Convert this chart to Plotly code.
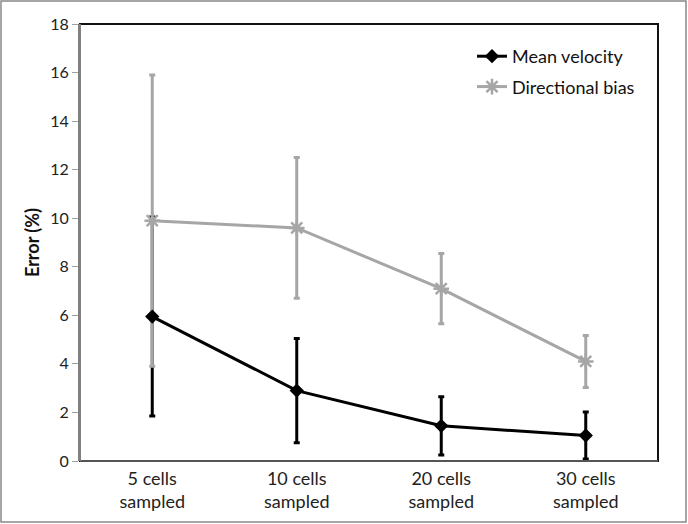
import plotly.graph_objects as go

categories = ["5 cells<br>sampled", "10 cells<br>sampled", "20 cells<br>sampled", "30 cells<br>sampled"]
mean_velocity = [5.95, 2.9, 1.45, 1.05]
mean_velocity_err = [4.1, 2.15, 1.2, 0.97]
directional_bias = [9.9, 9.6, 7.1, 4.1]
directional_bias_err = [6.0, 2.9, 1.45, 1.07]
y_ticks = [0, 2, 4, 6, 8, 10, 12, 14, 16, 18]

BLACK = "#000000"
GREY = "#a6a6a6"
FONT = "Lato"

fig = go.Figure()

# black error bars underneath grey series
fig.add_trace(go.Scatter(
    x=categories, y=mean_velocity, mode="lines",
    line=dict(color="rgba(0,0,0,0)", width=0),
    error_y=dict(type="data", array=mean_velocity_err, visible=True,
                 color=BLACK, thickness=3, width=3),
    showlegend=False, hoverinfo="skip",
))
fig.add_trace(go.Scatter(
    x=categories, y=directional_bias, mode="lines+markers",
    name="Directional bias", legendgroup="b",
    line=dict(color=GREY, width=3),
    marker=dict(symbol="asterisk-open", size=13, color=GREY, line=dict(color=GREY, width=2.5)),
    error_y=dict(type="data", array=directional_bias_err, visible=True,
                 color=GREY, thickness=3, width=3),
    legendrank=2,
))
fig.add_trace(go.Scatter(
    x=categories, y=mean_velocity, mode="lines+markers",
    name="Mean velocity", legendgroup="a",
    line=dict(color=BLACK, width=3),
    marker=dict(symbol="diamond", size=11, color=BLACK),
    legendrank=1,
))

fig.update_layout(
    width=688, height=524,
    margin=dict(l=80, r=30, t=24, b=63),
    paper_bgcolor="white", plot_bgcolor="white",
    font=dict(family=FONT, size=16, color="#222222"),
    showlegend=True,
    legend=dict(x=(472 - 80) / 578, y=1 - (38 - 24) / 437, xanchor="left", yanchor="top",
                bgcolor="rgba(0,0,0,0)", font=dict(size=18, color="#111111"),
                itemwidth=30, traceorder="grouped", tracegroupgap=4),
    xaxis=dict(type="category", range=[-0.5, 3.5], showgrid=False,
               showline=False, ticks="", zeroline=False, ticklabelstandoff=5,
               tickfont=dict(size=18, color="#222222")),
    yaxis=dict(range=[0, 18], tickvals=y_ticks, showgrid=False, zeroline=False,
               showline=True, linecolor="#808080", linewidth=2,
               ticks="outside", ticklen=6, tickcolor="#a0a0a0", tickwidth=1,
               tickfont=dict(size=16, color="#222222"),
               title=dict(text="<b>Error (%)</b>", font=dict(size=18, color="#111111"), standoff=6)),
    shapes=[
        dict(type="rect", xref="paper", yref="paper", x0=0, x1=1, y0=0, y1=1,
             line=dict(color="#111111", width=2), layer="below"),
        dict(type="line", xref="paper", yref="paper", x0=0, x1=1, y0=0, y1=0,
             line=dict(color="#555555", width=2)),
        dict(type="line", xref="paper", yref="paper", x0=0, x1=0, y0=0, y1=1,
             line=dict(color="#808080", width=2)),
        dict(type="rect", xref="paper", yref="paper", x0=-79/578, x1=1+28/578,
             y0=-61/437, y1=1+23/437, line=dict(color="#888888", width=1.5)),
    ],
)

fig.write_html("out.html", config={"displayModeBar": False})

with open("out.html", "r", encoding="utf-8") as f:
    html = f.read()
html = html.replace("<body>", '<body style="margin:0;padding:0;">', 1)
with open("out.html", "w", encoding="utf-8") as f:
    f.write(html)
